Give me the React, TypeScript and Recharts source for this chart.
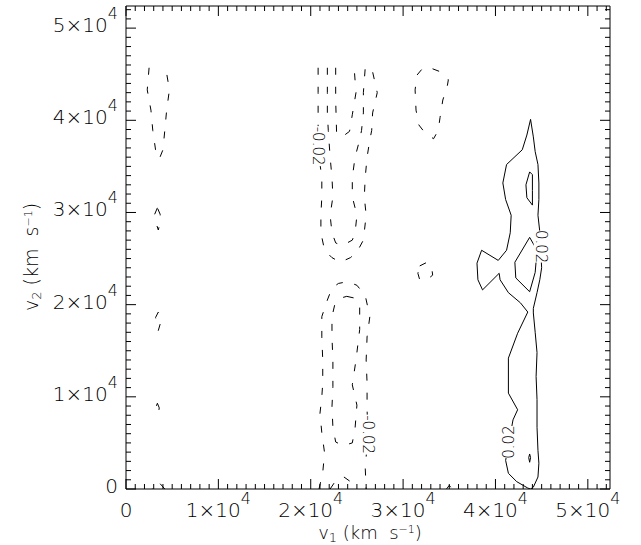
import React from 'react';
import { ComposedChart, Line, Scatter, XAxis, YAxis } from 'recharts';

type Pt = [number, number];

// negative contours (-0.02 and below), drawn dashed
const negLeftTop: Pt[] = [[2500, 45700], [2300, 43300], [2700, 41100], [2900, 38900], [3200, 36800], [3600, 35800], [4000, 36800], [4200, 38900], [4400, 41100], [4700, 43300], [4300, 45700]];
const negLeft30: Pt[] = [[3400, 30500], [3100, 29800], [3200, 29000], [3500, 28100], [3700, 29000], [3700, 29800], [3400, 30500]];
const negLeft18: Pt[] = [[3500, 19200], [3200, 18600], [3400, 17700], [3500, 17200], [3700, 17900], [3700, 18800], [3500, 19200]];
const negLeft9: Pt[] = [[3400, 9300], [3600, 8800], [3500, 8200], [3200, 8800], [3400, 9300]];
const negLeft0: Pt[] = [[4200, 0], [3500, 800], [2800, 0]];
const negMidInner: Pt[] = [[22700, 45700], [22700, 42200], [22800, 38600], [23400, 38200], [24200, 38800], [24500, 40600], [24900, 43000], [24700, 45700]];
const negMidMiddle: Pt[] = [[21800, 45700], [21800, 43000], [21800, 40800], [21900, 38900], [22100, 36000], [22300, 33800], [22400, 31700], [22100, 29700], [22300, 27800], [22700, 26700], [23400, 26400], [24500, 27000], [24800, 27800], [25000, 29700], [24500, 31700], [24500, 33800], [24800, 36000], [25300, 37900], [25500, 38900], [25700, 40800], [25700, 43000], [25900, 45700]];
const negMidOuter: Pt[] = [[20800, 45700], [20800, 43000], [20800, 40800], [20800, 38900], [20900, 36000], [21200, 33800], [21200, 31700], [21100, 29700], [21100, 27800], [21500, 25900], [22300, 25100], [23200, 24600], [24300, 25100], [25000, 25700], [25700, 27000], [26000, 29700], [25800, 31700], [25900, 33800], [26100, 36000], [26400, 37900], [26600, 38900], [26700, 40800], [27200, 43000], [26600, 45700]];
const negLowOuter: Pt[] = [[20900, 0], [21300, 1800], [21500, 3900], [21200, 6100], [21000, 8200], [21200, 10000], [21300, 11500], [21300, 14000], [21200, 16500], [21200, 18700], [21800, 20500], [22300, 21800], [23000, 22300], [24000, 22500], [25000, 22100], [25900, 21000], [26400, 18700], [26100, 16500], [26000, 14000], [26100, 11500], [26100, 8600], [26200, 5900], [25900, 2300], [26000, 0]];
const negLowInner: Pt[] = [[23900, 20900], [24800, 20700], [25300, 19700], [25300, 17300], [24900, 14000], [24500, 11300], [25000, 9100], [24800, 6600], [24500, 5000], [23500, 4700], [22700, 5100], [22400, 6700], [22300, 8900], [22400, 11100], [22400, 14000], [22300, 16500], [22300, 18700], [22600, 20000], [23200, 20700], [23900, 20900]];
const negLowBase: Pt[] = [[22100, 0], [22700, 900], [23600, 1300], [24300, 800], [24600, 0]];
const negRightTop: Pt[] = [[32000, 45500], [31500, 44900], [31300, 43300], [31400, 41100], [31700, 39500], [32400, 38600], [33300, 38000], [33800, 38900], [34000, 40300], [34300, 42200], [34800, 43800], [34900, 44400], [34200, 45200], [32900, 45700], [32000, 45500]];
const negRight23: Pt[] = [[31800, 24200], [32600, 24600], [33100, 24000], [33200, 23200], [32700, 22800], [31800, 22700], [31600, 23400], [31800, 24200]];
const negRight0: Pt[] = [[34700, 0], [35000, 400], [35300, 0]];

// positive contours (0.02 and above), drawn solid
const posMain: Pt[] = [
  [43800, 40100], [43400, 38400], [42900, 36800], [41200, 35200], [40800, 33200], [41100, 31400], [41700, 29700], [41600, 27800], [41200, 25900], [40300, 24800], [38500, 25900], [38000, 24500], [38100, 22700], [38600, 21600], [40400, 23400], [40500, 22700], [41400, 21300], [42700, 20200], [43500, 19200],
  [42400, 16900], [41400, 14200], [41400, 10400], [42400, 8600], [41900, 7500], [41500, 5300], [41100, 3100], [41400, 1700], [42300, 800], [43500, 100], [43800, 0],
  [44100, 200], [44600, 1300], [44700, 2800], [44600, 4200], [44500, 6700], [44500, 9700], [44400, 12200], [44500, 14800], [44300, 17000], [44100, 19100],
  [44100, 19600], [44500, 21300], [44800, 22700], [45000, 24000], [44900, 25900], [44800, 27900], [44600, 29700], [44700, 31400], [44700, 33200], [44600, 35200], [44300, 36600], [44100, 38200], [43800, 40100],
];
const posInner: Pt[] = [[43700, 27300], [42100, 24600], [42200, 22900], [43700, 21400], [44300, 23500], [44500, 25900], [43700, 27300]];
const posUpper: Pt[] = [[43700, 34400], [43300, 33000], [43400, 31600], [44000, 30800], [44000, 32400], [44000, 34100], [43700, 34400]];
const posLow: Pt[] = [[43700, 3800], [43600, 3400], [43700, 2900], [43800, 3400], [43700, 3800]];

const negContours = [negLeftTop, negLeft30, negLeft18, negLeft9, negLeft0, negMidInner, negMidMiddle, negMidOuter, negLowOuter, negLowInner, negLowBase, negRightTop, negRight23, negRight0];
const posContours = [posMain, posInner, posUpper, posLow];

const contourLabels = [
  { x: 20800, y: 37200, text: '-0.02', rot: 90 },
  { x: 26200, y: 5900, text: '-0.02', rot: 90 },
  { x: 44900, y: 26300, text: '0.02', rot: 90 },
  { x: 41500, y: 5100, text: '0.02', rot: -90 },
];

const AXIS_MAX = 52400;
const allTicks = Array.from({ length: 53 }, (_, i) => i * 1000);

const FONT = 'DejaVu Sans';
const isMajor = (v: number) => v % 10000 === 0;
const tickLen = (v: number) => (isMajor(v) ? 10 : 5);

const SciText = ({ v }: { v: number }) =>
  v === 0 ? <tspan>0</tspan> : (
    <>
      <tspan>{v / 10000}×10</tspan>
      <tspan dy={-13} fontSize={16}>4</tspan>
    </>
  );

const BottomTick = (p: any) => {
  const v = p.payload.value;
  return (
    <g>
      <line x1={p.x} y1={p.y} x2={p.x} y2={p.y - tickLen(v)} stroke="#000" />
      {isMajor(v) && v <= 50000 && (
        <text x={p.x} y={p.y + 28} textAnchor="middle" fontSize={20} fontWeight={200} fontFamily={FONT} fill="#000">
          <SciText v={v} />
        </text>
      )}
    </g>
  );
};

const TopTick = (p: any) => (
  <line x1={p.x} y1={p.y} x2={p.x} y2={p.y + tickLen(p.payload.value)} stroke="#000" />
);

const LeftTick = (p: any) => {
  const v = p.payload.value;
  return (
    <g>
      <line x1={p.x} y1={p.y} x2={p.x + tickLen(v)} y2={p.y} stroke="#000" />
      {isMajor(v) && v <= 50000 && (
        <text x={p.x - 8} y={p.y + 4} textAnchor="end" fontSize={20} fontWeight={200} fontFamily={FONT} fill="#000">
          <SciText v={v} />
        </text>
      )}
    </g>
  );
};

const RightTick = (p: any) => (
  <line x1={p.x} y1={p.y} x2={p.x - tickLen(p.payload.value)} y2={p.y} stroke="#000" />
);

const Title = ({ sub }: { sub: string }) => (
  <>
    v<tspan fontSize={13} dy={3}>{sub}</tspan>
    <tspan dy={-3}>{' (km  s'}</tspan>
    <tspan fontSize={11} dy={-6}>−1</tspan>
    <tspan dy={6}>)</tspan>
  </>
);

const XTitle = () => (
  <text x={370} y={539} textAnchor="middle" fontSize={18} fontWeight={200} fontFamily={FONT} fill="#000" style={{ whiteSpace: 'pre' }}>
    <Title sub="1" />
  </text>
);

const YTitle = () => (
  <text x={38} y={257} transform="rotate(-90 38 257)" textAnchor="middle" fontSize={19} fontWeight={200} fontFamily={FONT} fill="#000" style={{ whiteSpace: 'pre' }}>
    <Title sub="2" />
  </text>
);

const ContourLabel = (p: any) => {
  const { cx, cy, payload } = p;
  const w = payload.text.length * 8;
  return (
    <g transform={`translate(${cx},${cy}) rotate(${payload.rot})`}>
      <rect x={-w / 2} y={-7} width={w} height={14} fill="#fff" />
      <text x={0} y={5} textAnchor="middle" fontSize={15} fontWeight={200} fontFamily={FONT} fill="#000">
        {payload.text}
      </text>
    </g>
  );
};

const toRows = (pts: Pt[]) => pts.map(([x, y]) => ({ x, y }));

export default function App() {
  return (
    <div style={{ position: 'absolute', left: 0, top: 0, background: '#fff' }}>
      <ComposedChart width={641} height={545} margin={{ top: 0, right: 0, bottom: 0, left: 0 }}>
        <XAxis
          xAxisId="b" type="number" dataKey="x" domain={[0, AXIS_MAX]} ticks={allTicks} interval={0}
          tick={BottomTick} tickLine={false} tickSize={0} tickMargin={0} height={56}
          axisLine={{ stroke: '#000' }} allowDataOverflow label={<XTitle />}
        />
        <XAxis
          xAxisId="t" orientation="top" type="number" dataKey="x" domain={[0, AXIS_MAX]} ticks={allTicks} interval={0}
          tick={TopTick} tickLine={false} tickSize={0} tickMargin={0} height={6}
          axisLine={{ stroke: '#000' }} allowDataOverflow
        />
        <YAxis
          yAxisId="l" type="number" dataKey="y" domain={[0, AXIS_MAX]} ticks={allTicks} interval={0}
          tick={LeftTick} tickLine={false} tickSize={0} tickMargin={0} width={126}
          axisLine={{ stroke: '#000' }} allowDataOverflow label={<YTitle />}
        />
        <YAxis
          yAxisId="r" orientation="right" type="number" dataKey="y" domain={[0, AXIS_MAX]} ticks={allTicks} interval={0}
          tick={RightTick} tickLine={false} tickSize={0} tickMargin={0} width={31}
          axisLine={{ stroke: '#000' }} allowDataOverflow
        />
        {negContours.map((c, i) => (
          <Line
            key={`n${i}`} xAxisId="b" yAxisId="l" data={toRows(c)} dataKey="y" type="linear"
            stroke="#000" strokeWidth={1} strokeDasharray="7 12" dot={false} activeDot={false}
            isAnimationActive={false}
          />
        ))}
        {posContours.map((c, i) => (
          <Line
            key={`p${i}`} xAxisId="b" yAxisId="l" data={toRows(c)} dataKey="y" type="linear"
            stroke="#000" strokeWidth={1} dot={false} activeDot={false} isAnimationActive={false}
          />
        ))}
        <Scatter xAxisId="b" yAxisId="l" data={contourLabels} shape={ContourLabel} isAnimationActive={false} />
      </ComposedChart>
    </div>
  );
}
